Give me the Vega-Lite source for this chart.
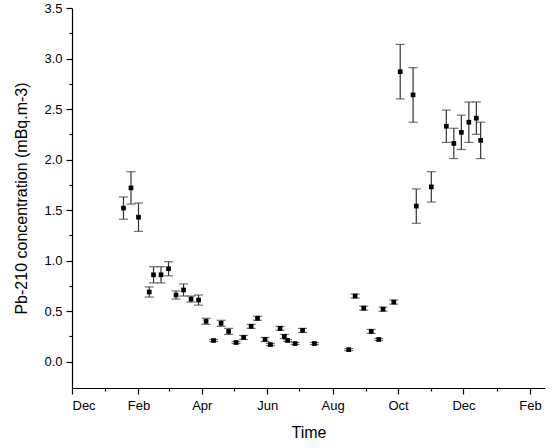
{
  "$schema": "https://vega.github.io/schema/vega-lite/v6.json",
  "width": 473,
  "height": 380,
  "autosize": "none",
  "padding": {"left": 72, "top": 8, "right": 9, "bottom": 60},
  "background": "white",
  "config": {
    "view": {"stroke": null},
    "font": "Liberation Sans",
    "axis": {"grid": false, "domainColor": "black", "tickColor": "black", "labelColor": "black", "titleColor": "black", "labelFontSize": 13, "titleFontSize": 16, "titleFontWeight": "normal", "domainWidth": 1.2, "tickWidth": 1.2}
  },
  "data": {"values": [
    {"date": "2017-01-18", "pb": 1.52, "err": 0.11},
    {"date": "2017-01-25", "pb": 1.72, "err": 0.16},
    {"date": "2017-02-01", "pb": 1.43, "err": 0.14},
    {"date": "2017-02-11", "pb": 0.69, "err": 0.05},
    {"date": "2017-02-15", "pb": 0.86, "err": 0.08},
    {"date": "2017-02-22", "pb": 0.86, "err": 0.08},
    {"date": "2017-03-01", "pb": 0.92, "err": 0.07},
    {"date": "2017-03-08", "pb": 0.66, "err": 0.04},
    {"date": "2017-03-15", "pb": 0.71, "err": 0.06},
    {"date": "2017-03-22", "pb": 0.62, "err": 0.03},
    {"date": "2017-03-29", "pb": 0.61, "err": 0.05},
    {"date": "2017-04-05", "pb": 0.40, "err": 0.03},
    {"date": "2017-04-12", "pb": 0.21, "err": 0.01},
    {"date": "2017-04-19", "pb": 0.38, "err": 0.03},
    {"date": "2017-04-26", "pb": 0.30, "err": 0.03},
    {"date": "2017-05-03", "pb": 0.19, "err": 0.01},
    {"date": "2017-05-10", "pb": 0.24, "err": 0.02},
    {"date": "2017-05-17", "pb": 0.35, "err": 0.02},
    {"date": "2017-05-23", "pb": 0.43, "err": 0.02},
    {"date": "2017-05-30", "pb": 0.22, "err": 0.02},
    {"date": "2017-06-04", "pb": 0.17, "err": 0.01},
    {"date": "2017-06-13", "pb": 0.33, "err": 0.02},
    {"date": "2017-06-17", "pb": 0.25, "err": 0.02},
    {"date": "2017-06-20", "pb": 0.21, "err": 0.01},
    {"date": "2017-06-27", "pb": 0.18, "err": 0.01},
    {"date": "2017-07-04", "pb": 0.31, "err": 0.02},
    {"date": "2017-07-15", "pb": 0.18, "err": 0.01},
    {"date": "2017-08-16", "pb": 0.12, "err": 0.01},
    {"date": "2017-08-22", "pb": 0.65, "err": 0.02},
    {"date": "2017-08-30", "pb": 0.53, "err": 0.02},
    {"date": "2017-09-06", "pb": 0.30, "err": 0.02},
    {"date": "2017-09-13", "pb": 0.22, "err": 0.01},
    {"date": "2017-09-17", "pb": 0.52, "err": 0.02},
    {"date": "2017-09-27", "pb": 0.59, "err": 0.02},
    {"date": "2017-10-03", "pb": 2.87, "err": 0.27},
    {"date": "2017-10-15", "pb": 2.64, "err": 0.27},
    {"date": "2017-10-18", "pb": 1.54, "err": 0.17},
    {"date": "2017-11-01", "pb": 1.73, "err": 0.15},
    {"date": "2017-11-15", "pb": 2.33, "err": 0.16},
    {"date": "2017-11-22", "pb": 2.16, "err": 0.15},
    {"date": "2017-11-29", "pb": 2.27, "err": 0.17},
    {"date": "2017-12-06", "pb": 2.37, "err": 0.2},
    {"date": "2017-12-13", "pb": 2.41, "err": 0.16},
    {"date": "2017-12-17", "pb": 2.19, "err": 0.18}
  ]},
  "encoding": {
    "x": {
      "field": "date", "type": "temporal", "title": "Time",
      "scale": {"domain": ["2016-12-01", "2018-02-15"]},
      "axis": {
        "values": ["2016-12-01", "2017-01-01", "2017-02-01", "2017-03-01", "2017-04-01", "2017-05-01", "2017-06-01", "2017-07-01", "2017-08-01", "2017-09-01", "2017-10-01", "2017-11-01", "2017-12-01", "2018-01-01", "2018-02-01"],
        "labelExpr": "month(datum.value) % 2 == 1 || month(datum.value) == 11 ? timeFormat(datum.value, '%b') : ''",
        "tickSize": {"condition": {"test": "month(datum.value) % 2 == 1 || month(datum.value) == 11", "value": 6}, "value": 3},
        "labelPadding": 5, "titlePadding": 12
      }
    },
    "y": {
      "field": "pb", "type": "quantitative", "title": "Pb-210 concentration (mBq.m-3)",
      "scale": {"domain": [-0.26, 3.5], "nice": false, "zero": false},
      "axis": {
        "values": [0, 0.25, 0.5, 0.75, 1, 1.25, 1.5, 1.75, 2, 2.25, 2.5, 2.75, 3, 3.25, 3.5],
        "labelExpr": "datum.value * 2 % 1 == 0 ? format(datum.value, '.1f') : ''",
        "tickSize": {"condition": {"test": "datum.value * 2 % 1 == 0", "value": 6}, "value": 3},
        "labelPadding": 4, "titlePadding": 14
      }
    }
  },
  "layer": [
    {"mark": {"type": "errorbar", "ticks": {"size": 9, "color": "#333"}, "rule": {"color": "#333"}, "thickness": 1.2}, "encoding": {"yError": {"field": "err"}}},
    {"mark": {"type": "square", "size": 22, "color": "black", "opacity": 1}}
  ]
}
